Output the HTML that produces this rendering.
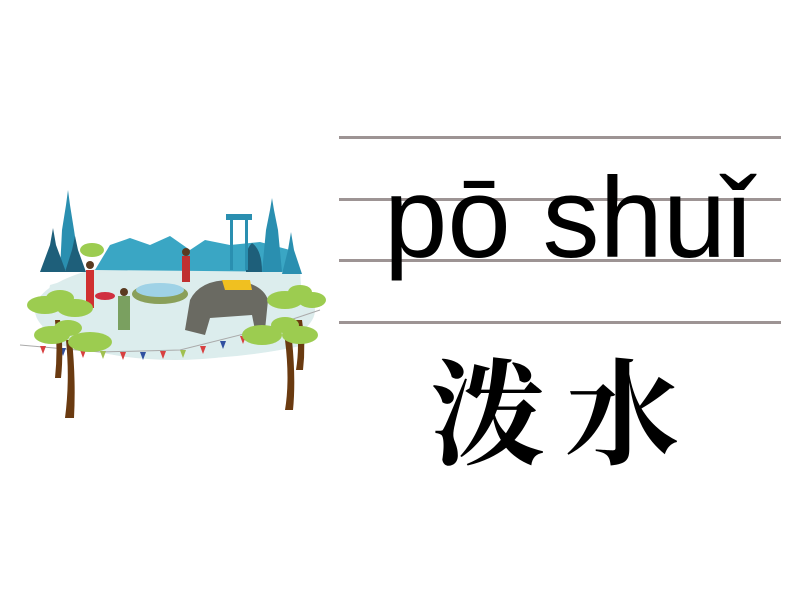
<!DOCTYPE html>
<html><head><meta charset="utf-8"><style>
html,body{margin:0;padding:0;background:#fff;width:800px;height:600px;overflow:hidden;position:relative}
.l{position:absolute;left:339px;width:442px;height:3px;background:#9d9494}
.py{position:absolute;left:384px;top:154px;font-family:"Liberation Sans",sans-serif;font-size:114px;line-height:130px;color:#000;white-space:nowrap}
.cn{position:absolute;left:430px;top:336px;font-family:"Noto Serif CJK SC","Noto Sans CJK SC",serif;font-weight:700;font-size:115px;line-height:140px;letter-spacing:20px;color:#000;white-space:nowrap}
svg{position:absolute;left:0;top:0}
</style></head><body>
<svg width="340" height="440" viewBox="0 0 340 440">
<ellipse cx="175" cy="310" rx="140" ry="50" fill="#dcecec"/>
<path d="M50 285 Q150 255 300 270 L305 345 Q170 375 40 340Z" fill="#dceded"/>
<path d="M95 270 L110 245 L130 238 L150 245 L170 236 L190 250 L205 240 L230 245 L260 242 L290 250 L300 272Z" fill="#3aa6c4"/>
<path d="M60 270 L62 230 L66 205 L68 190 L70 205 L74 230 L80 270Z" fill="#2a8fb0"/>
<path d="M40 272 L50 245 L53 228 L56 245 L66 272Z" fill="#1e5f7a"/>
<path d="M65 272 L72 250 L75 236 L78 250 L86 272Z" fill="#1e5f7a"/>
<path d="M262 272 L266 230 L270 210 L272 198 L274 210 L278 230 L282 272Z" fill="#2a8fb0"/>
<path d="M282 274 L288 250 L291 232 L294 250 L302 274Z" fill="#2a8fb0"/>
<path d="M246 272 Q244 250 252 243 Q262 250 262 272Z" fill="#1e5f7a"/>
<rect x="230" y="220" width="3" height="50" fill="#2a8fb0"/><rect x="245" y="220" width="3" height="50" fill="#2a8fb0"/>
<rect x="226" y="214" width="26" height="6" fill="#2a8fb0"/>
<ellipse cx="160" cy="294" rx="28" ry="10" fill="#8aa05a"/>
<ellipse cx="160" cy="290" rx="24" ry="7" fill="#9fd2e6"/>
<path d="M185 330 L190 300 Q200 280 230 280 Q262 282 268 300 L265 330 L255 330 L252 315 L210 318 L205 335Z" fill="#6a6a62"/>
<path d="M222 280 L250 280 L252 290 L225 290Z" fill="#f0c020"/>
<rect x="86" y="270" width="8" height="38" fill="#d03030"/><circle cx="90" cy="265" r="4" fill="#5a3a20"/>
<rect x="182" y="256" width="8" height="26" fill="#c03030"/><circle cx="186" cy="252" r="4" fill="#5a3a20"/>
<rect x="118" y="296" width="12" height="34" fill="#7aa060"/><circle cx="124" cy="292" r="4" fill="#5a3a20"/>
<ellipse cx="105" cy="296" rx="10" ry="4" fill="#d03040"/>
<polyline points="20,345 100,352 180,350 260,330 320,310" fill="none" stroke="#aaa" stroke-width="1"/>
<g fill="#d84040"><path d="M40 346 l6 0 -3 8z"/><path d="M80 350 l6 0 -3 8z"/><path d="M120 352 l6 0 -3 8z"/><path d="M160 351 l6 0 -3 8z"/><path d="M200 346 l6 0 -3 8z"/><path d="M240 336 l6 0 -3 8z"/></g>
<g fill="#3050a0"><path d="M60 348 l6 0 -3 8z"/><path d="M140 352 l6 0 -3 8z"/><path d="M220 341 l6 0 -3 8z"/></g>
<g fill="#a0c050"><path d="M100 351 l6 0 -3 8z"/><path d="M180 350 l6 0 -3 8z"/><path d="M260 330 l6 0 -3 8z"/></g>
<path d="M55 320 Q58 350 55 378 L61 378 Q64 350 60 320Z" fill="#6a3a10"/>
<path d="M66 340 Q70 380 65 418 L74 418 Q76 380 72 340Z" fill="#6a3a10"/>
<path d="M296 320 Q300 345 296 370 L303 370 Q306 345 302 320Z" fill="#6a3a10"/>
<path d="M285 340 Q290 380 285 410 L293 410 Q296 380 292 340Z" fill="#6a3a10"/>
<g fill="#9ccc50">
<ellipse cx="45" cy="305" rx="18" ry="9"/><ellipse cx="75" cy="308" rx="18" ry="9"/><ellipse cx="60" cy="298" rx="14" ry="8"/>
<ellipse cx="52" cy="335" rx="18" ry="9"/><ellipse cx="90" cy="342" rx="22" ry="10"/><ellipse cx="68" cy="328" rx="14" ry="8"/>
<ellipse cx="285" cy="300" rx="18" ry="9"/><ellipse cx="312" cy="300" rx="14" ry="8"/><ellipse cx="300" cy="292" rx="12" ry="7"/>
<ellipse cx="262" cy="335" rx="20" ry="10"/><ellipse cx="300" cy="335" rx="18" ry="9"/><ellipse cx="285" cy="325" rx="14" ry="8"/>
<ellipse cx="92" cy="250" rx="12" ry="7"/>
</g>
</svg>
<div class="l" style="top:136px"></div>
<div class="l" style="top:198px"></div>
<div class="l" style="top:259px"></div>
<div class="l" style="top:321px"></div>
<div class="py">pō shuǐ</div>
<div class="cn">泼水</div>
</body></html>
